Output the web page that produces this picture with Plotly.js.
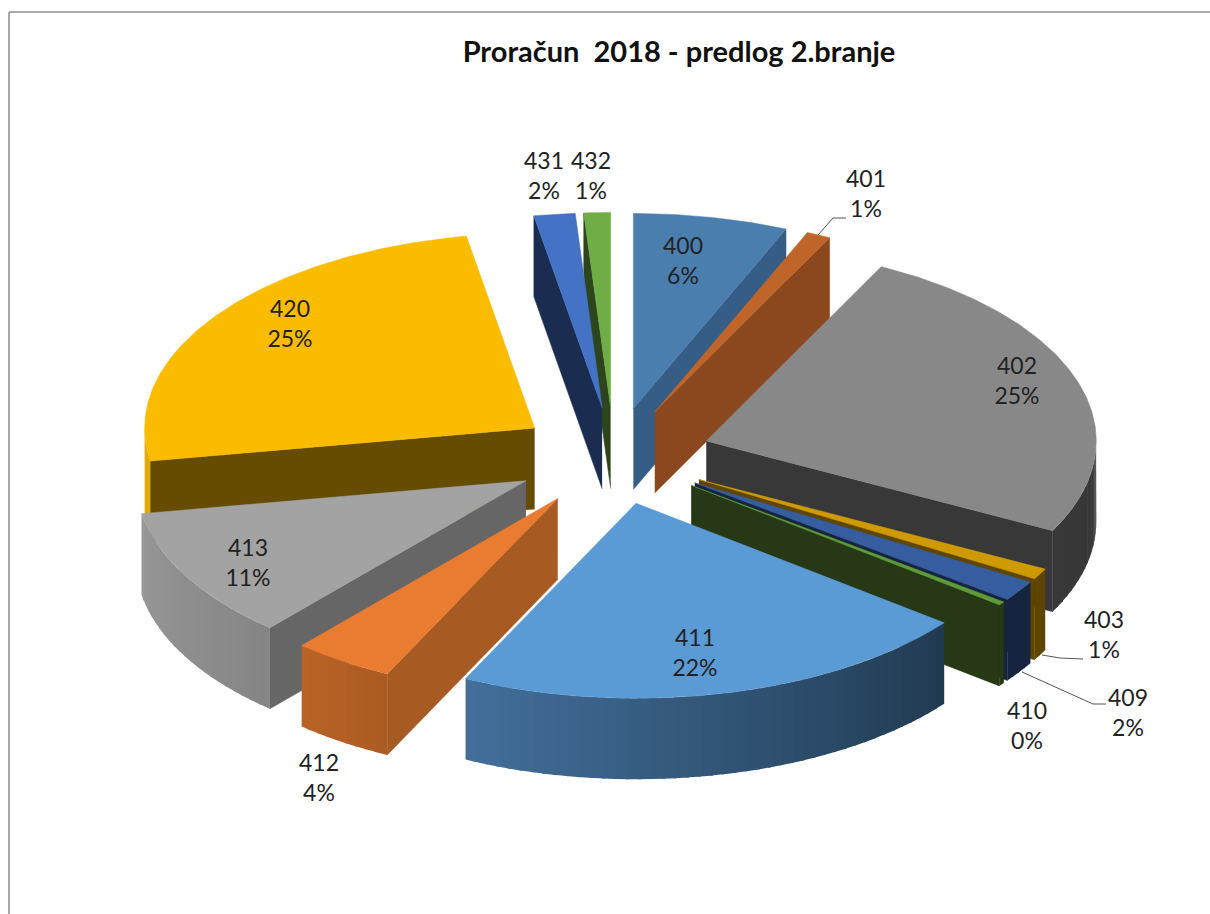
<!DOCTYPE html>
<html>
<head>
<meta charset="utf-8">
<script src="https://cdn.plot.ly/plotly-3.0.1.min.js"></script>
<style>html,body{margin:0;padding:0;background:#fff}#chart{width:1210px;height:914px}</style>
</head>
<body>
<div id="chart"></div>
<script>
// Data (share of the budget, percent)
const categories = ['400','401','402','403','409','410','411','412','413','420','431','432'];
const shares = [6.4,1.0,25.2,0.9,1.7,0.3,21.7,4.2,10.9,24.9,1.7,1.1];

// Styles
const topColors  = ['#4a7eae','#c0652a','#888888','#cf9a00','#365da0','#5f9b38','#5b9bd5','#e97c30','#a3a3a3','#fbbc00','#4472c4','#70ad47'];
const sideColors = ['#355d85','#8b481e','#383838','#5e4600','#16243f','#263815','#2a4a68','#a85a23','#666666','#664c00','#1a2c50','#2d451c'];
const arcStart   = ['#355d85','#8b481e','#383838','#5e4600','#16243f','#263815','#203a50','#aa5a23','#858585','#e0a800','#1a2c50','#2d451c'];
const arcEnd     = ['#355d85','#8b481e','#383838','#5e4600','#16243f','#263815','#436f9b','#bb6427','#979797','#e0a800','#1a2c50','#2d451c'];

// Explosion of each slice
const pulls = [97,97,97,97,97,97,97,102,101,97,97,97];

// Placement of text and leaders, in the page-sized axis units
const labelX = [683,866,1017,1104,1128,1027,695,319,248,290,544,591];
const labelY = [263,196,383,637,715,728,655,780,565,326,178,178];
const leaders = [
  {x:[818,833,846], y:[235,218,218]},
  {x:[1042,1060,1083], y:[655,658,659]},
  {x:[1022,1093,1106], y:[672,704,704]}
];

// Pie geometry
const cx = 614, cy = 456, rx = 390, ry = 195, depth = 81;
const rad = p => p * 2 * Math.PI / 100;
const hex = c => [1,3,5].map(i => parseInt(c.substr(i,2),16));
const mix = (a,b,t) => {
  const A = hex(a), B = hex(b);
  return 'rgb(' + A.map((v,i) => Math.round(v + (B[i]-v)*t)).join(',') + ')';
};

let cum = 0;
const slices = categories.map((name,i) => {
  const start = cum, end = cum + shares[i];
  cum = end;
  const mid = rad((start+end)/2);
  return {i, name, start, end,
    ax: cx + pulls[i]*Math.sin(mid),
    ay: cy - pulls[i]*0.5*Math.cos(mid)};
});

const poly = (xs, ys, color, lw) => ({
  type:'scatter', mode:'lines', x:xs, y:ys, fill:'toself', fillcolor:color,
  line:{color:color, width:lw}, hoverinfo:'skip', showlegend:false
});

const traces = [];
slices.slice().sort((a,b) => a.ay - b.ay).forEach(s => {
  const pt = p => [s.ax + rx*Math.sin(rad(p)), s.ay - ry*Math.cos(rad(p))];
  const [x0,y0] = pt(s.start), [x1,y1] = pt(s.end);
  // radial walls that face the viewer
  if (Math.sin(rad(s.start)) < -1e-6)
    traces.push(poly([s.ax,x0,x0,s.ax],[s.ay,y0,y0+depth,s.ay+depth],sideColors[s.i],0.5));
  if (Math.sin(rad(s.end)) > 1e-6)
    traces.push(poly([s.ax,x1,x1,s.ax],[s.ay,y1,y1+depth,s.ay+depth],sideColors[s.i],0.5));
  // front part of the outer wall, as overlapping strips for the shading
  const from = Math.max(s.start,25), to = Math.min(s.end,75);
  if (to > from) {
    const span = to - from;
    const n = Math.max(1, Math.ceil(span / 0.5));
    const fineSteps = 6;
    for (let k = 0; k < n; k++) {
      const a = from + span*k/n;
      const b = Math.min(to, from + span*(k+1.25)/n);
      const top = [], bottom = [];
      for (let q = 0; q <= fineSteps; q++) {
        const [x,y] = pt(a + (b-a)*q/fineSteps);
        top.push([x,y]); bottom.unshift([x,y+depth]);
      }
      const ring = top.concat(bottom);
      const t = ((a+span/(2*n)) - s.start)/(s.end - s.start);
      traces.push(poly(ring.map(p=>p[0]),ring.map(p=>p[1]),
        mix(arcStart[s.i],arcEnd[s.i],t),0));
    }
  }
  // top face
  const span = s.end - s.start;
  const xs = [s.ax], ys = [s.ay];
  const m = Math.max(2, Math.ceil(span / 0.2));
  for (let k = 0; k <= m; k++) {
    const [x,y] = pt(s.start + span*k/m);
    xs.push(x); ys.push(y);
  }
  xs.push(s.ax); ys.push(s.ay);
  traces.push(poly(xs,ys,topColors[s.i],0.5));
});

leaders.forEach(l => traces.push({
  type:'scatter', mode:'lines', x:l.x, y:l.y,
  line:{color:'#555555',width:1}, hoverinfo:'skip', showlegend:false
}));

traces.push({
  type:'scatter', mode:'text', x:labelX, y:labelY,
  text:categories.map((c,i) => c + '<br>' + Math.round(shares[i]) + '%'),
  textposition:'middle center',
  textfont:{family:'Lato, "Open Sans", sans-serif', size:23, color:'#222222'},
  hoverinfo:'skip', showlegend:false, cliponaxis:false
});

const layout = {
  width:1210, height:914,
  margin:{l:0,r:0,t:0,b:0,pad:0},
  paper_bgcolor:'#ffffff', plot_bgcolor:'#ffffff',
  showlegend:false,
  title:{text:'<b>Proračun\u00a0 2018 - predlog 2.branje</b>',
    x:679/1210, xref:'paper', xanchor:'center', y:1-52/914, yref:'paper', yanchor:'middle',
    font:{family:'Lato, "Open Sans", sans-serif', size:29, color:'#111111'}},
  xaxis:{range:[0,1210],visible:false,fixedrange:true},
  yaxis:{range:[914,0],visible:false,fixedrange:true},
  shapes:[
    {type:'line',xref:'x',yref:'y',x0:9,y0:12,x1:1210,y1:12,line:{color:'#8c8c8c',width:1.5}},
    {type:'line',xref:'x',yref:'y',x0:9,y0:12,x1:9,y1:914,line:{color:'#8c8c8c',width:1.5}}
  ]
};
Plotly.newPlot('chart',traces,layout,{displayModeBar:false,staticPlot:true});
</script>
</body>
</html>
